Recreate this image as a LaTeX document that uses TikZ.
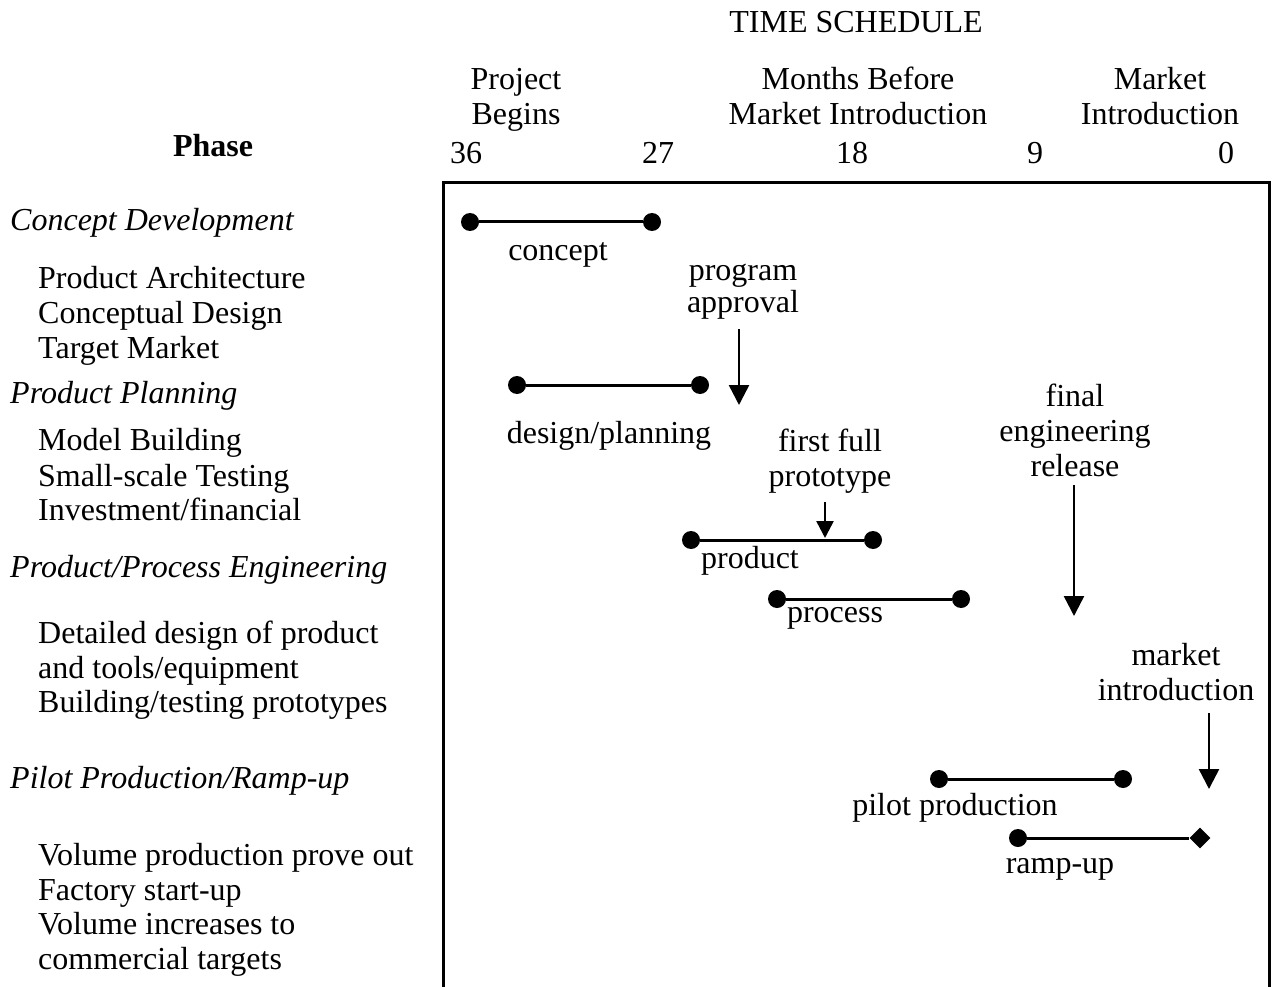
\documentclass[tikz,border=0pt]{standalone}
\usepackage{fontspec}
\setmainfont{Liberation Serif}
\usetikzlibrary{arrows.meta,shapes.geometric}
\tikzset{
  txt/.style={inner sep=0pt, font=\fontsize{32}{35}\selectfont, align=center},
  lbl/.style={txt, anchor=base},
  phase/.style={txt, anchor=base west, font=\fontsize{32}{35}\selectfont\itshape},
  task/.style={txt, anchor=base west},
  bar/.style={line width=3pt},
  dot/.style={circle, fill=black, inner sep=0pt, minimum size=18pt},
  endmark/.style={diamond, fill=black, inner sep=0pt, minimum size=21pt},
  arr/.style={line width=2.5pt, -{Triangle[length=20pt,width=20pt]}},
  smallarr/.style={line width=2.5pt, -{Triangle[length=17pt,width=17pt]}},
  frame/.style={line width=3pt}
}
\begin{document}
\begin{tikzpicture}[x=1pt,y=-1pt]
\useasboundingbox (0,0) rectangle (1277,987);

% header
\node[txt] (title) at (856,22) {TIME SCHEDULE};
\node[txt] (hbegin) at (516,100) {Project\\Begins};
\node[txt] (hmonths) at (858,96) {Months Before\\Market Introduction};
\node[txt] (hmarket) at (1160,96) {Market\\Introduction};
\node[txt, font=\fontsize{32}{35}\selectfont\bfseries] (hphase) at (213,146) {Phase};
\node[txt] (m36) at (466,153) {36};
\node[txt] (m27) at (658,153) {27};
\node[txt] (m18) at (852,153) {18};
\node[txt] (m9) at (1035,153) {9};
\node[txt] (m0) at (1226,153) {0};

% schedule frame (open at the bottom)
\draw[frame] (443,1000) -- (443,183) -- (1269,183) -- (1269,1000);

% phases and activities
\node[phase] (p1) at (10,231) {Concept Development};
\node[task] (t11) at (38,288) {Product Architecture};
\node[task] (t12) at (38,323) {Conceptual Design};
\node[task] (t13) at (38,358) {Target Market};
\node[phase] (p2) at (10,403) {Product Planning};
\node[task] (t21) at (38,450) {Model Building};
\node[task] (t22) at (38,486) {Small-scale Testing};
\node[task] (t23) at (38,520) {Investment/financial};
\node[phase] (p3) at (10,577) {Product/Process Engineering};
\node[task] (t31) at (38,643) {Detailed design of product};
\node[task] (t32) at (38,678) {and tools/equipment};
\node[task] (t33) at (38,712) {Building/testing prototypes};
\node[phase] (p4) at (10,788) {Pilot Production/Ramp-up};
\node[task] (t41) at (38,865) {Volume production prove out};
\node[task] (t42) at (38,900) {Factory start-up};
\node[task] (t43) at (38,934) {Volume increases to};
\node[task] (t44) at (38,969) {commercial targets};

% activity bars
\node[dot] (ca) at (470,222) {};
\node[dot] (cb) at (652,222) {};
\draw[bar] (ca) -- (cb);
\node[lbl] (lc) at (558,260) {concept};

\node[dot] (da) at (517,385) {};
\node[dot] (db) at (700,385) {};
\draw[bar] (da) -- (db);
\node[lbl] (ld) at (609,443) {design/planning};

\node[dot] (pa) at (691,540) {};
\node[dot] (pb) at (873,540) {};
\draw[bar] (pa) -- (pb);
\node[lbl] (lp) at (750,568) {product};

\node[dot] (ra) at (777,599) {};
\node[dot] (rb) at (961,599) {};
\draw[bar] (ra) -- (rb);
\node[lbl] (lr) at (835,622) {process};

\node[dot] (ia) at (939,779) {};
\node[dot] (ib) at (1123,779) {};
\draw[bar] (ia) -- (ib);
\node[lbl] (li) at (955,815) {pilot production};

\node[dot] (ua) at (1018,838) {};
\node[endmark] (ub) at (1200,838) {};
\draw[bar] (ua) -- (ub);
\node[lbl] (lu) at (1060,873) {ramp-up};

% milestones
\node[txt, font=\fontsize{32}{32}\selectfont] (mapp) at (743,292) {program\\approval};
\coordinate (mapp1) at (739,329);
\coordinate (mapp2) at (739,405);
\draw[arr] (mapp1) -- (mapp2);

\node[txt] (mproto) at (830,461) {first full\\prototype};
\coordinate (mproto1) at (825,502);
\coordinate (mproto2) at (825,538);
\draw[smallarr] (mproto1) -- (mproto2);

\node[txt] (mrel) at (1075,430) {final\\engineering\\release};
\coordinate (mrel1) at (1074,485);
\coordinate (mrel2) at (1074,616);
\draw[arr] (mrel1) -- (mrel2);

\node[txt] (mint) at (1176,672) {market\\introduction};
\coordinate (mint1) at (1209,713);
\coordinate (mint2) at (1209,789);
\draw[arr] (mint1) -- (mint2);
\end{tikzpicture}
\end{document}
